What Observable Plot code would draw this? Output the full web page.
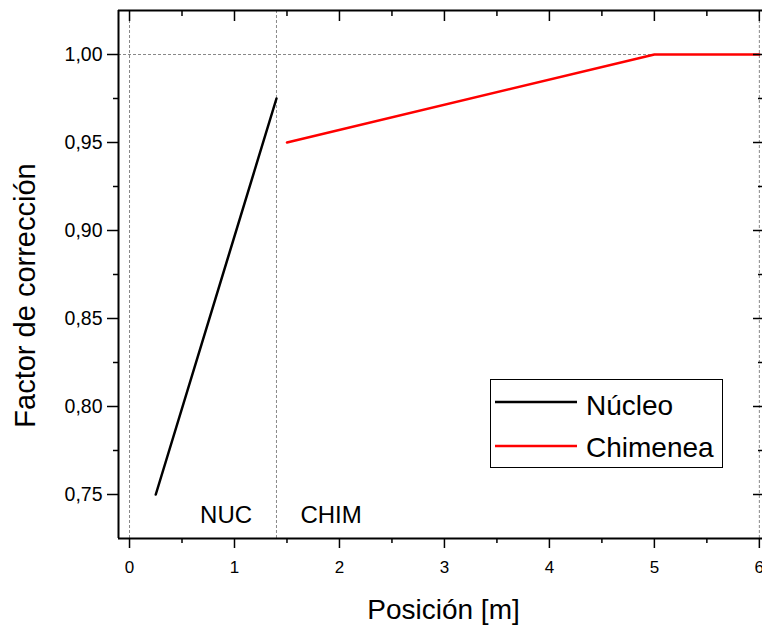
<!DOCTYPE html>
<html><head><meta charset="utf-8">
<script src="https://cdn.jsdelivr.net/npm/d3@7"></script>
<script src="https://cdn.jsdelivr.net/npm/@observablehq/plot@0.6"></script>
<style>
body{margin:0;background:#fff;}
#wrap{position:relative;width:762px;height:630px;overflow:hidden;font-family:"Liberation Sans",Arial,sans-serif;}
#legend{position:absolute;left:490px;top:379px;}
</style></head><body><div id="wrap"></div>
<script>
// Data
const nucleoX = [0.25, 1.4];
const nucleoY = [0.75, 0.975];
const chimX = [1.5, 5, 6];
const chimY = [0.95, 1.0, 1.0];
const seriesNames = ["Núcleo", "Chimenea"];
const seriesColors = ["#000000", "#ff0000"];
const xTicks = [0, 1, 2, 3, 4, 5, 6];
const xMinorTicks = [0.5, 1.5, 2.5, 3.5, 4.5, 5.5];
const yTicks = [0.75, 0.80, 0.85, 0.90, 0.95, 1.00];
const yMinorTicks = [0.775, 0.825, 0.875, 0.925, 0.975];
const refX = [0, 1.4, 6];
const refY = [1.0];
const zoneLabels = ["NUC", "CHIM"];
const zoneX = [0.92, 1.92];
const zoneY = [0.738, 0.738];
const xDomain = [-0.105, 6.03];
const yDomain = [0.725, 1.025];
const xTitle = "Posición [m]";
const yTitle = "Factor de corrección";

const nucleo = nucleoX.map((x, i) => ({x, y: nucleoY[i]}));
const chim = chimX.map((x, i) => ({x, y: chimY[i]}));
const zones = zoneLabels.map((t, i) => ({t, x: zoneX[i], y: zoneY[i]}));
const fmt = d => d.toFixed(2).replace(".", ",");
const blank = () => "";
const dash = {stroke: "#888", strokeWidth: 1, strokeDasharray: "3,2"};

const chart = Plot.plot({
  width: 762, height: 630,
  marginLeft: 118, marginRight: 0, marginTop: 10, marginBottom: 92,
  x: {domain: xDomain, range: [118, 762]},
  y: {domain: yDomain},
  style: {fontFamily: '"Liberation Sans", Arial, sans-serif', fontSize: "19px", color: "black", background: "white", overflow: "visible"},
  marks: [
    Plot.ruleX(refX, dash),
    Plot.ruleY(refY, dash),
    Plot.line(nucleo, {x: "x", y: "y", stroke: seriesColors[0], strokeWidth: 2.5}),
    Plot.line(chim, {x: "x", y: "y", stroke: seriesColors[1], strokeWidth: 2.5}),
    Plot.text(zones, {x: "x", y: "y", text: "t", fontSize: 24, fill: "black"}),
    // left axis
    Plot.axisY({anchor: "left", ticks: yTicks, tickSize: 11, tickPadding: 5, tickFormat: fmt, fontSize: 19.5, strokeWidth: 1.5, label: null}),
    Plot.axisY({anchor: "left", ticks: yMinorTicks, tickSize: 5, tickFormat: blank, strokeWidth: 1.5, label: null}),
    // right axis (inward)
    Plot.axisY({anchor: "right", ticks: yTicks, tickSize: -10, tickFormat: blank, strokeWidth: 1.5, label: null}),
    Plot.axisY({anchor: "right", ticks: yMinorTicks, tickSize: -5, tickFormat: blank, strokeWidth: 1.5, label: null}),
    // bottom axis
    Plot.axisX({anchor: "bottom", ticks: xTicks, tickSize: 10, tickPadding: 12, tickFormat: d => String(d), fontSize: 17, strokeWidth: 1.5, label: null}),
    Plot.axisX({anchor: "bottom", ticks: xMinorTicks, tickSize: 5, tickFormat: blank, strokeWidth: 1.5, label: null}),
    // top axis (inward)
    Plot.axisX({anchor: "top", ticks: xTicks, tickSize: -10, tickFormat: blank, strokeWidth: 1.5, label: null}),
    Plot.axisX({anchor: "top", ticks: xMinorTicks, tickSize: -5, tickFormat: blank, strokeWidth: 1.5, label: null}),
    // frame
    Plot.ruleX([xDomain[0]], {stroke: "black", strokeWidth: 2}),
    Plot.ruleY(yDomain, {stroke: "black", strokeWidth: 2}),
    // titles
    Plot.text([xTitle], {frameAnchor: "bottom", textAnchor: "middle", dx: 3, dy: 80, fontSize: 28, fill: "black"}),
    Plot.text([yTitle], {frameAnchor: "left", textAnchor: "middle", rotate: -90, dx: -93, dy: 21, fontSize: 29, fill: "black"})
  ]
});
const wrap = document.getElementById("wrap");
wrap.appendChild(chart);

// legend
const ns = "http://www.w3.org/2000/svg";
const lg = document.createElementNS(ns, "svg");
lg.setAttribute("id", "legend");
lg.setAttribute("width", 234);
lg.setAttribute("height", 90);
lg.style.overflow = "visible";
const rect = document.createElementNS(ns, "rect");
rect.setAttribute("x", 0.5); rect.setAttribute("y", 0.5);
rect.setAttribute("width", 232); rect.setAttribute("height", 88);
rect.setAttribute("fill", "white"); rect.setAttribute("stroke", "black"); rect.setAttribute("stroke-width", 1);
lg.appendChild(rect);
seriesNames.forEach((name, i) => {
  const yLine = 23 + i * 44;
  const l = document.createElementNS(ns, "line");
  l.setAttribute("x1", 5); l.setAttribute("x2", 87);
  l.setAttribute("y1", yLine); l.setAttribute("y2", yLine);
  l.setAttribute("stroke", seriesColors[i]); l.setAttribute("stroke-width", 2.5);
  lg.appendChild(l);
  const t = document.createElementNS(ns, "text");
  t.setAttribute("x", 96); t.setAttribute("y", 36 + i * 42);
  t.setAttribute("font-size", 28);
  t.setAttribute("font-family", '"Liberation Sans", Arial, sans-serif');
  t.textContent = name;
  lg.appendChild(t);
});
wrap.appendChild(lg);
</script>
</body></html>
